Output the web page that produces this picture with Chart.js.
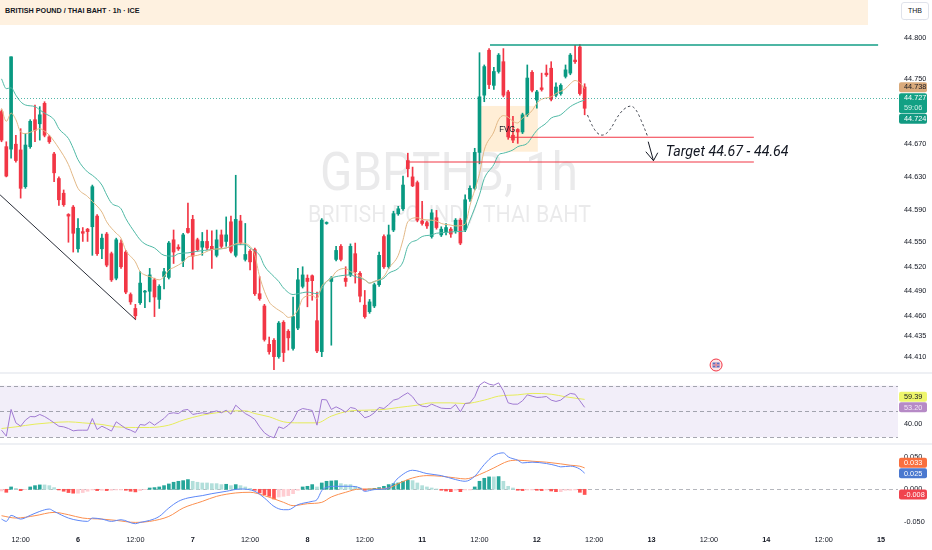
<!DOCTYPE html>
<html>
<head>
<meta charset="utf-8">
<script src="https://cdn.jsdelivr.net/npm/chart.js@4.4.0/dist/chart.umd.min.js"></script>
<style>
  html, body { margin: 0; padding: 0; background: #fff; }
  body { width: 932px; height: 550px; position: relative; overflow: hidden; font-family: "Liberation Sans", Arial, sans-serif; }
  canvas { position: absolute; left: 0; }
  #header { position: absolute; left: 0; top: 0; width: 868px; height: 25px; background: #fef1e0; }
  #header span { position: absolute; left: 5px; top: 6px; font-size: 7.2px; line-height: 9px; font-weight: bold; color: #131722; }
  #thb { position: absolute; left: 901px; top: 2px; width: 28px; height: 18px; box-sizing: border-box; border: 1px solid #e0e3eb; border-radius: 3px; background: #fff; font-size: 7px; line-height: 16px; text-align: center; color: #131722; }
  .sep { position: absolute; left: 0; width: 932px; height: 2px; background: #eef0f4; }
</style>
</head>
<body>
<canvas id="priceChart" width="932" height="372" style="top:0px"></canvas>
<canvas id="rsiChart" width="932" height="68" style="top:375px"></canvas>
<canvas id="macdChart" width="932" height="105" style="top:445px"></canvas>
<div class="sep" style="top:372px"></div>
<div class="sep" style="top:443px"></div>
<div id="header"><span>BRITISH POUND / THAI BAHT · 1h · ICE</span></div>
<div id="thb">THB</div>
<script>
// hourly bars, first bar = hour 8 of the visible range (day 5, 08:00), weekend hours skipped
const firstHour = 8;

const candleOpen = [
  44.710, 44.667, 44.664, 44.670, 44.663, 44.618, 44.667, 44.700, 44.695, 44.720,
  44.679, 44.658, 44.628, 44.610, 44.584, 44.593, 44.542, 44.563, 44.566, 44.569,
  44.582, 44.542, 44.560, 44.536, 44.506, 44.549, 44.538, 44.486, 44.469, 44.476,
  44.489, 44.490, 44.504, 44.480, 44.508, 44.507, 44.553, 44.544, 44.527, 44.567,
  44.578, 44.553, 44.544, 44.551, 44.545, 44.534, 44.559, 44.551, 44.575, 44.534,
  44.576, 44.529, 44.539, 44.541, 44.487, 44.472, 44.425, 44.430, 44.410, 44.452,
  44.441, 44.420, 44.445, 44.496, 44.506, 44.509, 44.454, 44.416, 44.573, 44.502,
  44.529, 44.545, 44.506, 44.510, 44.536, 44.512, 44.473, 44.465, 44.472, 44.498,
  44.557, 44.520, 44.565, 44.585, 44.591, 44.650, 44.630, 44.623, 44.576, 44.574,
  44.557, 44.580, 44.559, 44.563, 44.566, 44.564, 44.577, 44.565, 44.603, 44.616,
  44.660, 44.730, 44.785, 44.742, 44.759, 44.771, 44.734, 44.681, 44.688, 44.685,
  44.706, 44.758, 44.724, 44.739, 44.757, 44.763, 44.730, 44.732, 44.753, 44.757,
  44.773, 44.789, 44.740
];
const candleHigh = [
  44.712, 44.673, 44.777, 44.681, 44.689, 44.683, 44.700, 44.718, 44.716, 44.722,
  44.681, 44.660, 44.630, 44.614, 44.585, 44.595, 44.579, 44.568, 44.567, 44.620,
  44.584, 44.560, 44.562, 44.538, 44.555, 44.553, 44.540, 44.488, 44.474, 44.514,
  44.491, 44.518, 44.506, 44.498, 44.518, 44.551, 44.565, 44.547, 44.561, 44.598,
  44.583, 44.555, 44.562, 44.565, 44.564, 44.565, 44.565, 44.581, 44.582, 44.632,
  44.583, 44.573, 44.541, 44.543, 44.508, 44.474, 44.434, 44.432, 44.453, 44.454,
  44.443, 44.483, 44.518, 44.520, 44.510, 44.510, 44.489, 44.579, 44.575, 44.508,
  44.545, 44.547, 44.520, 44.548, 44.549, 44.514, 44.491, 44.480, 44.500, 44.538,
  44.559, 44.571, 44.588, 44.594, 44.631, 44.659, 44.642, 44.625, 44.600, 44.576,
  44.590, 44.589, 44.569, 44.573, 44.568, 44.579, 44.579, 44.608, 44.619, 44.665,
  44.782, 44.767, 44.787, 44.764, 44.781, 44.787, 44.736, 44.704, 44.689, 44.708,
  44.767, 44.760, 44.736, 44.757, 44.767, 44.771, 44.745, 44.744, 44.767, 44.781,
  44.791, 44.792, 44.744
];
const candleLow = [
  44.673, 44.630, 44.653, 44.648, 44.604, 44.616, 44.665, 44.673, 44.675, 44.679,
  44.671, 44.624, 44.595, 44.594, 44.550, 44.538, 44.538, 44.551, 44.551, 44.534,
  44.534, 44.530, 44.520, 44.502, 44.504, 44.518, 44.487, 44.474, 44.456, 44.474,
  44.470, 44.477, 44.459, 44.469, 44.493, 44.505, 44.524, 44.540, 44.520, 44.561,
  44.517, 44.539, 44.534, 44.541, 44.518, 44.532, 44.543, 44.545, 44.537, 44.532,
  44.547, 44.527, 44.516, 44.485, 44.479, 44.429, 44.413, 44.394, 44.408, 44.404,
  44.418, 44.418, 44.443, 44.494, 44.471, 44.479, 44.415, 44.410, 44.572, 44.424,
  44.527, 44.527, 44.496, 44.508, 44.500, 44.477, 44.457, 44.463, 44.470, 44.496,
  44.518, 44.518, 44.563, 44.583, 44.589, 44.630, 44.618, 44.575, 44.571, 44.567,
  44.555, 44.566, 44.557, 44.559, 44.556, 44.561, 44.547, 44.563, 44.600, 44.614,
  44.646, 44.722, 44.738, 44.737, 44.757, 44.728, 44.676, 44.672, 44.671, 44.683,
  44.704, 44.734, 44.714, 44.735, 44.753, 44.723, 44.728, 44.730, 44.751, 44.755,
  44.769, 44.730, 44.706
];
const candleClose = [
  44.675, 44.631, 44.777, 44.650, 44.616, 44.669, 44.698, 44.687, 44.706, 44.681,
  44.673, 44.635, 44.602, 44.596, 44.582, 44.561, 44.567, 44.561, 44.563, 44.618,
  44.536, 44.555, 44.522, 44.504, 44.553, 44.520, 44.489, 44.477, 44.460, 44.500,
  44.490, 44.510, 44.483, 44.496, 44.514, 44.549, 44.538, 44.542, 44.559, 44.562,
  44.533, 44.541, 44.551, 44.543, 44.541, 44.553, 44.545, 44.559, 44.539, 44.578,
  44.549, 44.535, 44.526, 44.487, 44.481, 44.431, 44.416, 44.410, 44.451, 44.415,
  44.433, 44.459, 44.504, 44.510, 44.502, 44.503, 44.417, 44.577, 44.574, 44.506,
  44.540, 44.529, 44.502, 44.545, 44.514, 44.484, 44.459, 44.477, 44.498, 44.534,
  44.520, 44.559, 44.585, 44.591, 44.620, 44.640, 44.619, 44.577, 44.573, 44.570,
  44.586, 44.568, 44.566, 44.568, 44.560, 44.577, 44.549, 44.602, 44.616, 44.660,
  44.728, 44.765, 44.743, 44.759, 44.779, 44.730, 44.679, 44.675, 44.685, 44.706,
  44.751, 44.736, 44.734, 44.737, 44.755, 44.725, 44.740, 44.742, 44.761, 44.779,
  44.771, 44.732, 44.714
];

// moving averages: [hour, value]
const emaFast = [
  [8,44.714],[9,44.698],[10,44.708],[11,44.700],[12,44.685],[13,44.683],[15,44.687],[16,44.689],[17,44.686],[18,44.681],
  [20,44.665],[22,44.645],[23,44.630],[24,44.616],[26,44.606],[27,44.600],[29,44.587],[30,44.575],[32,44.561],[33,44.555],
  [34,44.540],[36,44.526],[37,44.514],[38,44.510],[39,44.508],[41,44.504],[42,44.508],[43,44.516],[44,44.519],[46,44.526],
  [47,44.532],[49,44.534],[52,44.541],[55,44.543],[57,44.548],[58,44.549],[60,44.545],[61,44.534],[62,44.508],[64,44.477],
  [65,44.471],[67,44.463],[68,44.458],[70,44.467],[71,44.481],[73,44.485],[74,44.481],[75,44.496],[76,44.502],[77,44.506],
  [78,44.514],[80,44.518],[81,44.514],[82,44.512],[84,44.504],[85,44.500],[86,44.502],[88,44.508],[89,44.518],[91,44.534],
  [92,44.553],[93,44.575],[95,44.580],[96,44.578],[98,44.577],[99,44.576],[100,44.573],[102,44.571],[103,44.570],[105,44.572],
  [106,44.595],[108,44.634],[109,44.663],[111,44.685],[112,44.700],[113,44.705],[114,44.703],[115,44.698],[116,44.696],[117,44.702],
  [119,44.711],[120,44.720],[121,44.725],[123,44.728],[124,44.732],[126,44.738],[127,44.744],[128,44.748],[129,44.745],[130,44.738]
];
const emaSlow = [
  [8,44.750],[9,44.738],[10,44.739],[11,44.730],[12,44.722],[13,44.718],[15,44.716],[16,44.712],[17,44.708],[19,44.700],
  [20,44.689],[22,44.677],[23,44.665],[24,44.651],[26,44.636],[27,44.632],[29,44.620],[30,44.608],[31,44.598],[33,44.591],
  [34,44.579],[36,44.561],[37,44.553],[38,44.548],[40,44.543],[42,44.534],[44,44.533],[45,44.536],[47,44.537],[49,44.539],
  [52,44.541],[55,44.543],[57,44.547],[59,44.547],[60,44.543],[62,44.534],[63,44.521],[65,44.508],[66,44.502],[67,44.494],
  [69,44.486],[70,44.487],[72,44.489],[74,44.487],[76,44.502],[77,44.506],[79,44.509],[81,44.510],[82,44.508],[84,44.504],
  [85,44.500],[86,44.502],[88,44.506],[89,44.512],[91,44.518],[92,44.526],[93,44.545],[95,44.553],[96,44.557],[98,44.559],
  [99,44.561],[101,44.562],[103,44.563],[105,44.564],[106,44.577],[108,44.608],[109,44.628],[111,44.645],[112,44.657],[113,44.659],
  [115,44.663],[116,44.667],[118,44.671],[119,44.679],[120,44.687],[122,44.696],[123,44.702],[125,44.706],[126,44.711],[127,44.716],
  [129,44.722],[130,44.724]
];

// RSI, one value per bar
const rsiValues = [
  35.5, 30.9, 51.6, 41.2, 38.6, 43.3, 46.1, 45.9, 47.7, 46.1,
  43.8, 41.2, 38.6, 38.1, 36.8, 35.0, 35.5, 35.5, 35.5, 44.6,
  36.0, 38.6, 36.8, 34.8, 42.0, 39.4, 36.8, 35.5, 33.7, 39.9,
  39.4, 42.0, 39.4, 42.0, 44.6, 48.4, 49.0, 48.4, 51.0, 51.6,
  47.7, 48.4, 49.0, 48.4, 49.5, 50.5, 49.0, 51.0, 47.9, 54.9,
  51.6, 48.4, 46.4, 43.8, 38.1, 33.5, 30.9, 29.6, 38.1, 36.8,
  39.4, 43.3, 50.5, 52.3, 51.6, 50.8, 39.4, 59.3, 59.0, 51.6,
  53.6, 51.8, 49.5, 53.1, 52.3, 49.0, 45.1, 46.4, 49.0, 53.1,
  52.3, 55.4, 58.8, 59.8, 62.4, 64.5, 61.4, 56.2, 54.1, 53.6,
  55.7, 54.1, 52.6, 52.3, 52.3, 55.4, 49.7, 56.2, 56.7, 61.4,
  70.4, 73.0, 71.2, 70.4, 72.2, 66.0, 56.7, 55.7, 55.7, 58.3,
  62.9, 61.9, 60.9, 61.1, 61.6, 58.8, 57.8, 58.8, 61.9, 64.0,
  63.4, 58.3, 53.20
];
const rsiAverage = [
  [8,36.8],[11,38.1],[15,40.2],[18,41.2],[22,42.0],[25,41.2],[29,39.9],[32,38.1],[36,37.6],[39,37.6],
  [43,39.4],[46,43.3],[50,47.2],[53,49.0],[57,50.5],[59,50.5],[61,48.4],[64,45.9],[67,42.0],[70,41.2],
  [74,41.2],[77,46.4],[81,50.5],[84,51.0],[88,51.6],[91,53.1],[95,54.9],[98,56.7],[102,56.7],[105,56.2],
  [109,58.8],[112,61.9],[116,62.9],[119,64.0],[123,63.4],[126,61.4],[130,59.39]
];

// MACD
const macdLine = [
  [8,-0.0457],[9,-0.0492],[10,-0.0400],[12,-0.0457],[14,-0.0400],[16,-0.0339],[18,-0.0303],[19,-0.0339],[22,-0.0441],[24,-0.0477],
  [26,-0.0492],[27,-0.0441],[29,-0.0457],[31,-0.0492],[33,-0.0467],[36,-0.0528],[37,-0.0508],[39,-0.0477],[41,-0.0416],[43,-0.0287],
  [45,-0.0185],[47,-0.0133],[50,-0.0097],[52,-0.0067],[55,-0.0031],[58,0.0005],[61,-0.0031],[63,-0.0133],[65,-0.0262],[67,-0.0313],
  [68,-0.0313],[70,-0.0236],[73,-0.0185],[74,-0.0159],[75,-0.0020],[76,0.0030],[78,0.0046],[81,0.0046],[83,0.0020],[84,-0.0031],
  [86,-0.0005],[89,0.0020],[91,0.0174],[94,0.0292],[97,0.0241],[100,0.0210],[103,0.0149],[105,0.0123],[107,0.0200],[109,0.0380],
  [111,0.0518],[113,0.0559],[114,0.0498],[116,0.0446],[117,0.0405],[119,0.0416],[122,0.0395],[124,0.0364],[125,0.0344],[127,0.0355],
  [129,0.0310],[130,0.0247]
];
const signalLine = [
  [8,-0.0405],[11,-0.0441],[15,-0.0405],[19,-0.0354],[22,-0.0390],[25,-0.0441],[29,-0.0457],[32,-0.0477],[36,-0.0508],[39,-0.0492],
  [43,-0.0416],[46,-0.0287],[50,-0.0185],[53,-0.0108],[57,-0.0056],[60,-0.0046],[63,-0.0097],[67,-0.0200],[69,-0.0251],[72,-0.0221],
  [75,-0.0200],[77,-0.0118],[80,-0.0046],[83,0.0005],[86,0.0005],[89,0.0020],[91,0.0087],[94,0.0174],[97,0.0210],[100,0.0200],
  [103,0.0174],[105,0.0159],[108,0.0226],[111,0.0328],[114,0.0431],[116,0.0446],[119,0.0431],[122,0.0416],[125,0.0390],[127,0.0369],
  [129,0.0354],[130,0.0328]
];
const histValues = [
  -0.0026, -0.0046, 0.0036, 0.0015, -0.0021, -0.0005, 0.0036, 0.0056, 0.0067, 0.0067,
  0.0056, 0.0026, -0.0010, -0.0030, -0.0050, -0.0060, -0.0060, -0.0050, -0.0030, -0.0010,
  -0.0020, -0.0015, -0.0020, -0.0015, -0.0010, -0.0010, -0.0015, -0.0030, -0.0040, -0.0020,
  -0.0005, 0.0020, 0.0026, 0.0036, 0.0056, 0.0082, 0.0108, 0.0123, 0.0133, 0.0149,
  0.0123, 0.0108, 0.0097, 0.0097, 0.0087, 0.0087, 0.0072, 0.0077, 0.0056, 0.0072,
  0.0056, 0.0036, 0.0015, -0.0015, -0.0056, -0.0082, -0.0108, -0.0149, -0.0118, -0.0108,
  -0.0097, -0.0067, -0.0015, 0.0036, 0.0046, 0.0072, 0.0036, 0.0097, 0.0123, 0.0128,
  0.0133, 0.0087, 0.0072, 0.0072, 0.0046, 0.0020, -0.0015, 0.0005, 0.0015, 0.0026,
  0.0046, 0.0072, 0.0087, 0.0097, 0.0123, 0.0139, 0.0133, 0.0097, 0.0056, 0.0036,
  0.0020, 0.0005, -0.0015, -0.0026, -0.0036, -0.0015, -0.0036, -0.0010, -0.0010, 0.0036,
  0.0123, 0.0169, 0.0190, 0.0190, 0.0195, 0.0123, 0.0046, 0.0020, -0.0015, -0.0020,
  -0.0010, -0.0010, -0.0015, -0.0020, -0.0010, -0.0026, -0.0036, -0.0036, -0.0015, -0.0015,
  -0.0010, -0.0046, -0.0080
];

// axis ticks
const priceTicks = [44.800, 44.750, 44.670, 44.630, 44.590, 44.550, 44.520, 44.490, 44.460, 44.435, 44.410];
const rsiTicks = [40];
const macdTicks = [0.05, 0, -0.05];
const timeTickHours = [12, 24, 36, 48, 60, 72, 84, 96, 108, 120, 132, 144, 156, 168, 180, 192];
const timeTickLabels = ['12:00', '6', '12:00', '7', '12:00', '8', '12:00', '11', '12:00', '12', '12:00', '13', '12:00', '14', '12:00', '15'];

const lastPrice = 44.727;
const barCountdown = '59:06';

// visible window
const xMin = 7.68, xMax = 195.56;

const GREEN = '#089981', RED = '#f23645';
const FONT = '"Liberation Sans", Arial, sans-serif';
const tickFont = { family: FONT, size: 7.3 };

const hours = candleOpen.map((_, i) => firstHour + i);
const up = candleOpen.map((o, i) => candleClose[i] >= o);

function hiddenX() {
  return { type: 'linear', min: xMin, max: xMax, display: false, offset: false, grid: { display: false } };
}
function rightAxis(min, max, values, digits) {
  return {
    position: 'right', min, max,
    grid: { display: false, drawTicks: false },
    border: { display: false },
    afterBuildTicks: s => { s.ticks = values.map(v => ({ value: v })); },
    afterFit: s => { s.width = 34; s.paddingTop = 0; s.paddingBottom = 0; },
    ticks: { padding: 6, color: '#131722', font: tickFont, callback: v => v.toFixed(digits) }
  };
}
const baseOptions = {
  responsive: false,
  animation: false,
  events: [],
  layout: { padding: 0 },
  plugins: { legend: { display: false }, tooltip: { enabled: false } }
};

function valueBox(ctx, left, top, texts, bg, fg) {
  const h = 10 * texts.length;
  ctx.fillStyle = bg;
  ctx.beginPath();
  ctx.roundRect(left, top, 28, h, 2);
  ctx.fill();
  ctx.font = '7.3px ' + FONT;
  ctx.textAlign = 'left';
  ctx.textBaseline = 'middle';
  texts.forEach((t, i) => {
    ctx.fillStyle = Array.isArray(fg) ? fg[i] : fg;
    ctx.fillText(t, left + 5, top + 5.3 + 10 * i);
  });
}
function fittedText(ctx, text, cx, base, width, font) {
  ctx.font = font;
  const w = ctx.measureText(text).width;
  ctx.save();
  ctx.translate(cx, base);
  ctx.scale(width / w, 1);
  ctx.textAlign = 'center';
  ctx.textBaseline = 'alphabetic';
  ctx.fillText(text, 0, 0);
  ctx.restore();
}

// drawings on the price pane, in [hour, price]
const trendLine = [[7.7, 44.608], [36.1, 44.455]];
const resistance = { from: 110.2, to: 191.4, price: 44.7915 };
const targetLines = [{ from: 114.1, to: 165.4, price: 44.6785 }, { from: 93.0, to: 165.4, price: 44.6482 }];
const fvgZone = { from: 107.7, to: 120.2, top: 44.7168, bottom: 44.6608 };
const projection = [[130.6, 44.7058], [131.7, 44.6895], [133.4, 44.6792], [135.2, 44.6853], [137.2, 44.7078],
                    [139.3, 44.7180], [140.7, 44.7140], [142.1, 44.6956], [143.2, 44.6792]];
const arrow = { from: [143.3, 44.6731], tip: [144.4, 44.6498], left: [142.8, 44.6608], right: [145.3, 44.6596] };

const priceOverlay = {
  id: 'priceOverlay',
  beforeDatasetsDraw(chart) {
    const { ctx, chartArea: a, scales } = chart;
    const X = v => scales.x.getPixelForValue(v), Y = v => scales.y.getPixelForValue(v);
    ctx.save();
    const cx = (a.left + a.right) / 2;
    ctx.fillStyle = 'rgba(19,23,34,0.09)';
    fittedText(ctx, 'GBPTHB, 1h', cx, a.top + 190, 258, '54px Roboto');
    fittedText(ctx, 'BRITISH POUND / THAI BAHT', cx + 0.5, a.top + 221.5, 283, '24px Roboto');
    ctx.fillStyle = 'rgba(255,152,0,0.16)';
    ctx.fillRect(X(fvgZone.from), Y(fvgZone.top), X(fvgZone.to) - X(fvgZone.from), Y(fvgZone.bottom) - Y(fvgZone.top));
    ctx.restore();
  },
  afterDatasetsDraw(chart) {
    const { ctx, chartArea: a, scales } = chart;
    const X = v => scales.x.getPixelForValue(v), Y = v => scales.y.getPixelForValue(v);
    ctx.save();
    // last price dotted line
    ctx.strokeStyle = 'rgba(8,153,129,0.7)';
    ctx.lineWidth = 1;
    ctx.setLineDash([1, 2]);
    ctx.beginPath();
    ctx.moveTo(a.left, Math.round(Y(lastPrice)) + 0.5);
    ctx.lineTo(a.right, Math.round(Y(lastPrice)) + 0.5);
    ctx.stroke();
    ctx.setLineDash([]);
    // trend line
    ctx.strokeStyle = '#2a2e39';
    ctx.beginPath();
    ctx.moveTo(X(trendLine[0][0]), Y(trendLine[0][1]));
    ctx.lineTo(X(trendLine[1][0]), Y(trendLine[1][1]));
    ctx.stroke();
    // resistance
    ctx.strokeStyle = '#139e86';
    ctx.lineWidth = 1.4;
    ctx.beginPath();
    ctx.moveTo(X(resistance.from), Y(resistance.price));
    ctx.lineTo(X(resistance.to), Y(resistance.price));
    ctx.stroke();
    // targets
    ctx.strokeStyle = RED;
    ctx.lineWidth = 1.2;
    targetLines.forEach(l => {
      ctx.beginPath();
      ctx.moveTo(X(l.from), Y(l.price));
      ctx.lineTo(X(l.to), Y(l.price));
      ctx.stroke();
    });
    // FVG label
    ctx.fillStyle = '#131722';
    fittedText(ctx, 'FVG', X(113.8), Y(44.6892) + 3.3, 16, '9px ' + FONT);
    // projected path
    ctx.strokeStyle = '#3b3f4a';
    ctx.lineWidth = 1;
    ctx.setLineDash([2.5, 2.5]);
    const pts = projection.map(([t, p]) => [X(t), Y(p)]);
    ctx.beginPath();
    ctx.moveTo(pts[0][0], pts[0][1]);
    for (let i = 1; i < pts.length - 1; i++) {
      const mx = (pts[i][0] + pts[i + 1][0]) / 2, my = (pts[i][1] + pts[i + 1][1]) / 2;
      ctx.quadraticCurveTo(pts[i][0], pts[i][1], mx, my);
    }
    ctx.lineTo(pts[pts.length - 1][0], pts[pts.length - 1][1]);
    ctx.stroke();
    ctx.setLineDash([]);
    // arrow
    ctx.strokeStyle = '#131722';
    ctx.beginPath();
    ctx.moveTo(X(arrow.from[0]), Y(arrow.from[1]));
    ctx.lineTo(X(arrow.tip[0]), Y(arrow.tip[1]));
    ctx.moveTo(X(arrow.left[0]), Y(arrow.left[1]));
    ctx.lineTo(X(arrow.tip[0]), Y(arrow.tip[1]));
    ctx.lineTo(X(arrow.right[0]), Y(arrow.right[1]));
    ctx.stroke();
    // target text
    ctx.fillStyle = '#131722';
    fittedText(ctx, 'Target 44.67 - 44.64', X(147) + 61.3, Y(44.662) + 5.3, 122.7, 'italic 15px Roboto');
    // event marker
    const ex = X(157.5), ey = a.bottom - 7;
    ctx.beginPath();
    ctx.arc(ex, ey, 6, 0, Math.PI * 2);
    ctx.fillStyle = '#fde4e6';
    ctx.fill();
    ctx.strokeStyle = RED;
    ctx.lineWidth = 1;
    ctx.stroke();
    ctx.fillStyle = '#5a6fc0';
    ctx.fillRect(ex - 3.5, ey - 2.5, 7, 5);
    ctx.strokeStyle = '#ffffff';
    ctx.lineWidth = 1.2;
    ctx.beginPath();
    ctx.moveTo(ex - 3.5, ey); ctx.lineTo(ex + 3.5, ey);
    ctx.moveTo(ex, ey - 2.5); ctx.lineTo(ex, ey + 2.5);
    ctx.stroke();
    ctx.strokeStyle = '#e53945';
    ctx.lineWidth = 0.6;
    ctx.beginPath();
    ctx.moveTo(ex - 3.5, ey); ctx.lineTo(ex + 3.5, ey);
    ctx.moveTo(ex, ey - 2.5); ctx.lineTo(ex, ey + 2.5);
    ctx.stroke();
    ctx.restore();
  },
  afterDraw(chart) {
    const { ctx, chartArea: a, scales } = chart;
    const Y = v => scales.y.getPixelForValue(v);
    ctx.save();
    const gTop = Y(lastPrice) - 4.5;
    const slowLast = emaSlow[emaSlow.length - 1][1], fastLast = emaFast[emaFast.length - 1][1];
    valueBox(ctx, a.right + 1, gTop, [lastPrice.toFixed(3), barCountdown], '#12a084', ['#ffffff', '#d4f1ea']);
    valueBox(ctx, a.right + 1, gTop + 20.5, [slowLast.toFixed(3)], '#129a82', '#ffffff');
    valueBox(ctx, a.right + 1, Math.min(Y(fastLast) - 5, gTop - 11), [fastLast.toFixed(3)], '#d9aa7c', '#131722');
    ctx.restore();
  }
};

new Chart(document.getElementById('priceChart'), {
  type: 'bar',
  data: {
    datasets: [
      { type: 'line', data: emaFast.map(([x, y]) => ({ x, y })), borderColor: '#e2b886', borderWidth: 1, pointRadius: 0, cubicInterpolationMode: 'monotone', order: 0 },
      { type: 'line', data: emaSlow.map(([x, y]) => ({ x, y })), borderColor: '#4fb9a5', borderWidth: 1, pointRadius: 0, cubicInterpolationMode: 'monotone', order: 0 },
      { data: hours.map((x, i) => ({ x, y: [candleOpen[i], candleClose[i]] })), backgroundColor: up.map(u => u ? GREEN : RED),
        grouped: false, maxBarThickness: 3, barPercentage: 1, categoryPercentage: 1, minBarLength: 1, order: 1 },
      { data: hours.map((x, i) => ({ x, y: [candleLow[i], candleHigh[i]] })), backgroundColor: up.map(u => u ? GREEN : RED),
        grouped: false, maxBarThickness: 1, barPercentage: 1, categoryPercentage: 1, order: 2 }
    ]
  },
  options: Object.assign({}, baseOptions, {
    scales: { x: hiddenX(), y: rightAxis(44.39119, 44.84651, priceTicks, 3) }
  }),
  plugins: [priceOverlay]
});

const rsiOverlay = {
  id: 'rsiOverlay',
  beforeDatasetsDraw(chart) {
    const { ctx, chartArea: a, scales } = chart;
    const Y = v => scales.y.getPixelForValue(v);
    ctx.save();
    ctx.fillStyle = 'rgba(126,87,194,0.1)';
    ctx.fillRect(a.left, Y(70), a.right - a.left, Y(30) - Y(70));
    ctx.strokeStyle = 'rgba(120,123,134,0.65)';
    ctx.lineWidth = 1;
    ctx.setLineDash([4, 3]);
    [70, 50, 30].forEach(v => {
      const y = Math.round(Y(v)) + 0.5;
      ctx.beginPath(); ctx.moveTo(a.left, y); ctx.lineTo(a.right, y); ctx.stroke();
    });
    ctx.restore();
  },
  afterDraw(chart) {
    const { ctx, chartArea: a, scales } = chart;
    const Y = v => scales.y.getPixelForValue(v);
    ctx.save();
    const rsiLast = rsiValues[rsiValues.length - 1], maLast = rsiAverage[rsiAverage.length - 1][1];
    const pTop = Y(rsiLast) - 5;
    valueBox(ctx, a.right + 1, pTop, [rsiLast.toFixed(2)], '#b68ac6', '#f3e9f7');
    valueBox(ctx, a.right + 1, Math.min(Y(maLast) - 5, pTop - 10.5), [maLast.toFixed(2)], '#eef66c', '#131722');
    ctx.restore();
  }
};

new Chart(document.getElementById('rsiChart'), {
  type: 'line',
  data: {
    datasets: [
      { data: hours.map((x, i) => ({ x, y: rsiValues[i] })), borderColor: '#a07ad2', borderWidth: 1, pointRadius: 0, order: 0 },
      { data: rsiAverage.map(([x, y]) => ({ x, y })), borderColor: '#e6ec5a', borderWidth: 1, pointRadius: 0, cubicInterpolationMode: 'monotone', order: 1 }
    ]
  },
  options: Object.assign({}, baseOptions, {
    scales: { x: hiddenX(), y: rightAxis(25.58, 78.29, rsiTicks, 2) }
  }),
  plugins: [rsiOverlay]
});

const histColors = histValues.map((v, i) => {
  const prev = i ? histValues[i - 1] : v;
  if (v >= 0) return v > prev ? '#26a69a' : '#b2dfdb';
  return v < prev ? '#ff5252' : '#ffcdd2';
});

const macdOverlay = {
  id: 'macdOverlay',
  beforeDatasetsDraw(chart) {
    const { ctx, chartArea: a, scales } = chart;
    const y = Math.round(scales.y.getPixelForValue(0)) + 0.5;
    ctx.save();
    ctx.strokeStyle = 'rgba(120,123,134,0.55)';
    ctx.lineWidth = 1;
    ctx.setLineDash([4, 3]);
    ctx.beginPath(); ctx.moveTo(a.left, y); ctx.lineTo(a.right, y); ctx.stroke();
    ctx.restore();
  },
  afterDraw(chart) {
    const { ctx, chartArea: a, scales } = chart;
    const Y = v => scales.y.getPixelForValue(v);
    ctx.save();
    const m = macdLine[macdLine.length - 1][1], s = signalLine[signalLine.length - 1][1], h = histValues[histValues.length - 1];
    const bTop = Y(m) - 5;
    valueBox(ctx, a.right + 1, bTop, [m.toFixed(3)], '#4a78cf', '#ffffff');
    valueBox(ctx, a.right + 1, Math.min(Y(s) - 5, bTop - 10.5), [s.toFixed(3)], '#f96f3e', '#ffffff');
    valueBox(ctx, a.right + 1, Y(h) - 5, [h.toFixed(3)], '#f0434e', '#ffffff');
    ctx.restore();
  }
};

new Chart(document.getElementById('macdChart'), {
  type: 'bar',
  data: {
    datasets: [
      { type: 'line', data: macdLine.map(([x, y]) => ({ x, y })), borderColor: '#5d87f7', borderWidth: 1, pointRadius: 0, cubicInterpolationMode: 'monotone', order: 0 },
      { type: 'line', data: signalLine.map(([x, y]) => ({ x, y })), borderColor: '#fb8f4f', borderWidth: 1, pointRadius: 0, cubicInterpolationMode: 'monotone', order: 1 },
      { data: hours.map((x, i) => ({ x, y: histValues[i] })), backgroundColor: histColors,
        grouped: false, maxBarThickness: 3, barPercentage: 1, categoryPercentage: 1, order: 2 }
    ]
  },
  options: Object.assign({}, baseOptions, {
    scales: {
      x: {
        type: 'linear', min: xMin, max: xMax, offset: false,
        grid: { display: false, drawTicks: false },
        border: { display: false },
        afterBuildTicks: s => { s.ticks = timeTickHours.map(v => ({ value: v })); },
        afterFit: s => { s.height = 19; s.paddingLeft = 0; s.paddingRight = 0; },
        ticks: {
          autoSkip: false, maxRotation: 0, padding: 5, color: '#131722',
          font: c => ({ family: FONT, size: 7.3, weight: (timeTickLabels[c.index] || '').includes(':') ? 'normal' : 'bold' }),
          callback: v => timeTickLabels[timeTickHours.indexOf(v)]
        }
      },
      y: rightAxis(-0.06396, 0.06794, macdTicks, 3)
    }
  }),
  plugins: [macdOverlay]
});
</script>
</body>
</html>
